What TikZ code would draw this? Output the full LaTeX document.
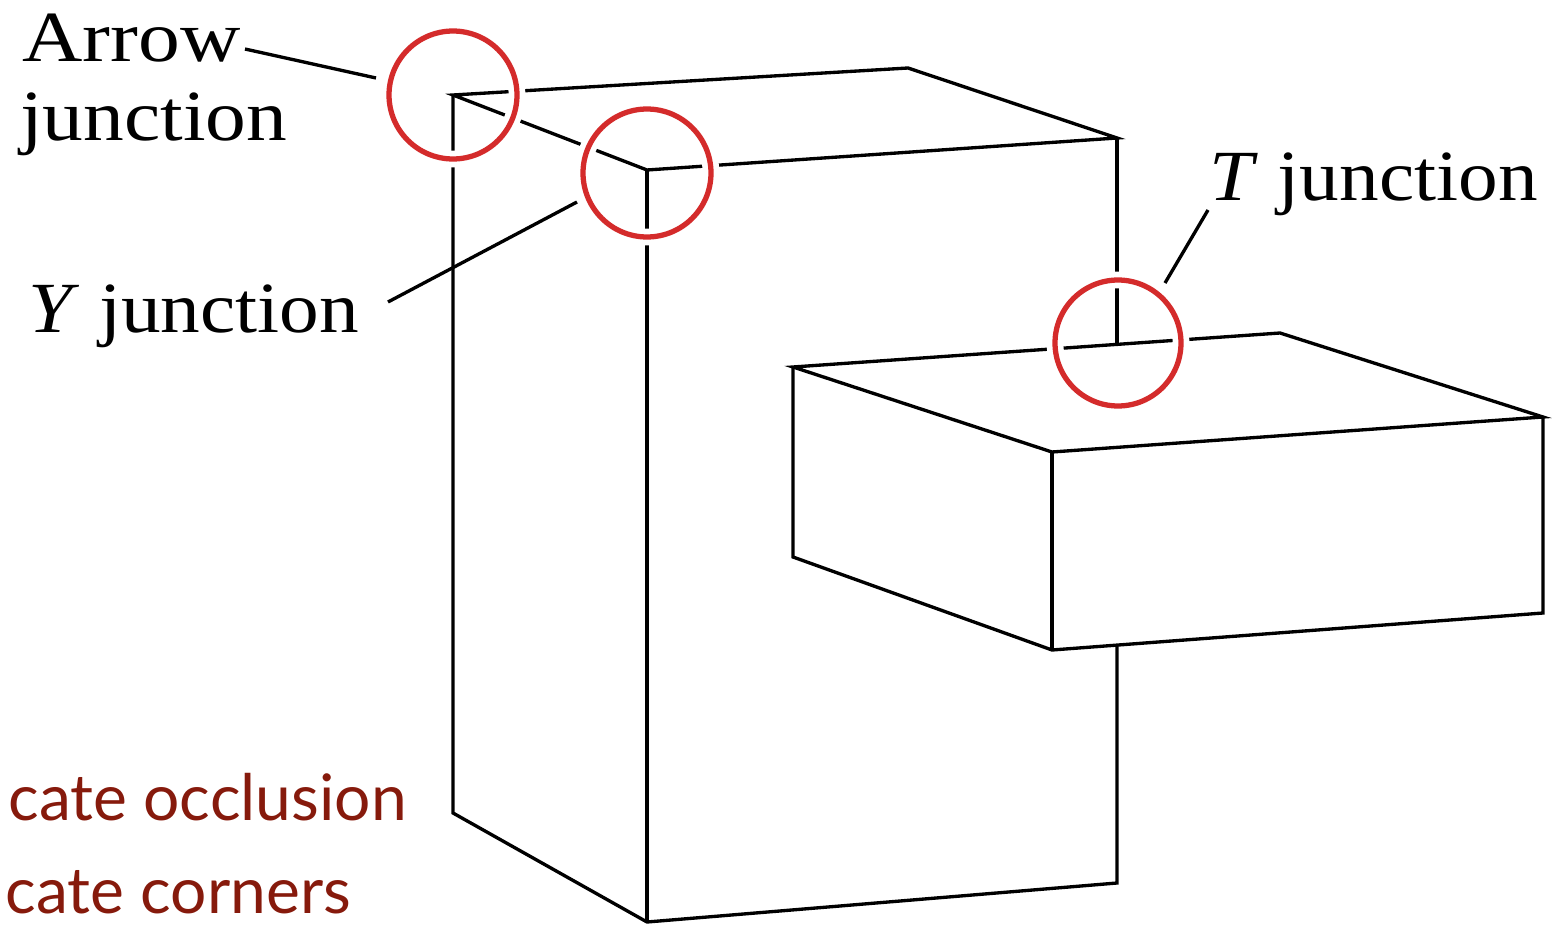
\documentclass[tikz,border=0pt]{standalone}
\usepackage{fontspec}
\setmainfont{Liberation Serif}
\newfontfamily\slidefont{Lato}
\definecolor{ringred}{HTML}{D42B2B}
\definecolor{slidered}{HTML}{861A0C}
\newcommand\widetext[2][1.13]{\scalebox{#1}[1]{#2}}

\begin{document}
\begin{tikzpicture}[x=0.02cm,y=-0.02cm,
  edge/.style={line width=1.9pt, line join=miter},
  ring/.style={draw=ringred, line width=3pt, preaction={draw=white, line width=9.5pt}},
  pointer/.style={line width=1.9pt},
  junctionlabel/.style={font=\fontsize{41}{41}\selectfont, inner sep=0pt, anchor=base west},
  note/.style={font=\slidefont\fontsize{36.5}{36.5}\selectfont, text=slidered, inner sep=0pt, anchor=base west}]

\useasboundingbox (0,0) rectangle (1552,926);

% tall block: top face
\coordinate (tBL) at (453,95);
\coordinate (tBR) at (908,68);
\coordinate (tFR) at (1117,138);
\coordinate (tFL) at (647,170);
% tall block: bottom
\coordinate (bL) at (453,813);
\coordinate (bF) at (647,922);
\coordinate (bR) at (1117,883);
% where the right edge meets the slab
\coordinate (tee) at (1117,344.4);
\coordinate (under) at (1117,645);

% slab
\coordinate (sBL) at (793,367);
\coordinate (sBR) at (1280,333);
\coordinate (sFR) at (1543,417);
\coordinate (sFL) at (1052,452);
\coordinate (sBL2) at (793,557);
\coordinate (sFL2) at (1052,650);
\coordinate (sFR2) at (1543,613);

% tall block edges
\draw[edge] (tFL) -- (tBL) -- (tBR) -- (tFR) -- (tFL);
\draw[edge] (tBL) -- (bL) -- (bF) -- (bR) -- (under);
\draw[edge] (tFL) -- (bF);
\draw[edge] (tFR) -- (tee);

% slab edges
\draw[edge] (sBL) -- (sBR) -- (sFR) -- (sFL) -- cycle;
\draw[edge] (sBL) -- (sBL2) -- (sFL2) -- (sFR2) -- (sFR);
\draw[edge] (sFL) -- (sFL2);

% junction rings
\draw[ring] (453,95) circle [radius=1.28cm];
\draw[ring] (647,173) circle [radius=1.28cm];
\draw[ring] (1118,343) circle [radius=1.26cm];

% labels
\node[junctionlabel] (arrowlbl) at (22,62) {\widetext[1.16]{Arrow}};
\node[junctionlabel] (arrowlbl2) at (20,140) {\widetext{junction}};
\node[junctionlabel] (ylbl) at (28,332) {\widetext[1.10]{\textit{Y} junction}};
\node[junctionlabel] (tlbl) at (1209,200) {\widetext[1.10]{\textit{T} junction}};

% pointer lines
\coordinate (arrowtip) at (376,78);
\coordinate (arrowfoot) at (245,49);
\coordinate (ytip) at (577,202);
\coordinate (yfoot) at (388,302);
\coordinate (ttip) at (1165,283);
\coordinate (tfoot) at (1208,210);
\draw[pointer] (arrowfoot) -- (arrowtip);
\draw[pointer] (yfoot) -- (ytip);
\draw[pointer] (tfoot) -- (ttip);

% slide text
\node[note] (occl) at (8,820) {cate occlusion};
\node[note] (corn) at (5,913) {cate corners};
\end{tikzpicture}
\end{document}
